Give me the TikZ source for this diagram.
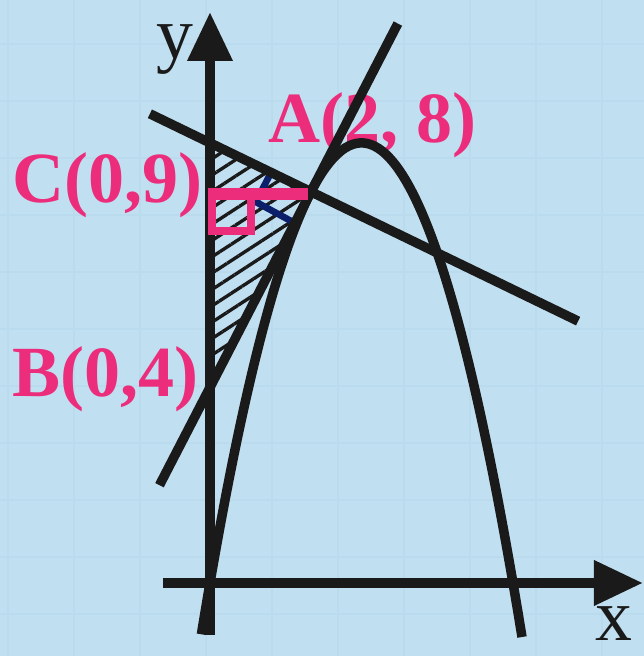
\documentclass[tikz,border=0pt]{standalone}
\usepackage{fontspec}
\setmainfont{Liberation Serif}
\usetikzlibrary{arrows.meta, patterns.meta}
\definecolor{bgblue}{HTML}{C0DFF1}
\definecolor{gridblue}{HTML}{BADBEE}
\definecolor{ptpink}{HTML}{EC2D7C}
\definecolor{angblue}{HTML}{0B1F6B}
\definecolor{ink}{HTML}{1A1A1A}

\begin{document}
\begin{tikzpicture}[x=1.01cm, y=0.978cm]
            \tikzset{axis/.style = {ink, line width=5.7pt, -{Triangle[length=0.98cm,width=0.86cm]}},
                     curve/.style = {ink, line width=5.4pt},
                     ptlabel/.style = {ptpink, font=\fontsize{41}{41}\selectfont\bfseries, anchor=base west, inner sep=0pt},
                     axlabel/.style = {ink, font=\fontsize{42}{42}\selectfont, anchor=base west, inner sep=0pt}}
            % background
            \fill[bgblue] (-4.158,-1.493) rectangle (8.594,11.922);
            \useasboundingbox (-4.158,-1.493) rectangle (8.594,11.922);
            \foreach \i in {0,...,9}
                \draw[gridblue, line width=1pt] ({-4.0+1.307*\i},-1.493) -- ({-4.0+1.307*\i},11.922);
            \foreach \j in {0,...,10}
                \draw[gridblue, line width=1pt] (-4.158,{11.022-1.1656*\j}) -- (8.594,{11.022-1.1656*\j});
            % vertices
            \coordinate (O) at (0,0);
            \coordinate (A) at (2,8);
            \coordinate (B) at (0,4);
            \coordinate (C) at (0,9);
            \coordinate (xl) at (-0.93,0);
            \coordinate (xr) at (8.574,0);
            \coordinate (yb) at (0,-1.06);
            \coordinate (yt) at (0,11.677);
            \coordinate (t1) at (-1,2);
            \coordinate (t2) at (3.72,11.44);
            \coordinate (n1) at (-1.19,9.595);
            \coordinate (n2) at (7.29,5.355);
            \coordinate (m1) at (1.208,8.396);
            \coordinate (mc) at (0.911,7.791);
            \coordinate (m2) at (1.68,7.36);
            \node[ptlabel] (lA) at (1.149,8.998) {A(2, 8)};
            \node[ptlabel] (lC) at (-3.921,7.771) {C(0,9)};
            \node[ptlabel] (lB) at (-3.921,3.804) {B(0,4)};
            \node[axlabel] (ly) at (-1.06,10.72) {y};
            \node[axlabel] (lx) at (7.62,-1.17) {x};
            %edges
            \fill[pattern={Lines[angle=33, distance=7.8pt, line width=1.9pt]}, pattern color=ink] (C) -- (A) -- (B) -- cycle;
            \draw[angblue, line width=3.8pt] (m1) -- (mc) -- (m2);
            \draw[axis] (xl) to (xr);
            \draw[axis] (yb) to (yt);
            \draw[curve] (t1) to (t2);
            \draw[curve] (n1) to (n2);
            \draw[curve] plot[domain=-0.17:6.18, samples=90, smooth] (\x, {-(\x)^2+6*\x});
            \draw[ptpink, line width=4.5pt] (0.04,7.198) rectangle (0.81,7.996);
            \draw[ptpink, line width=6.8pt] (-0.04,7.955) -- (1.94,7.955);
        \end{tikzpicture}
\end{document}
